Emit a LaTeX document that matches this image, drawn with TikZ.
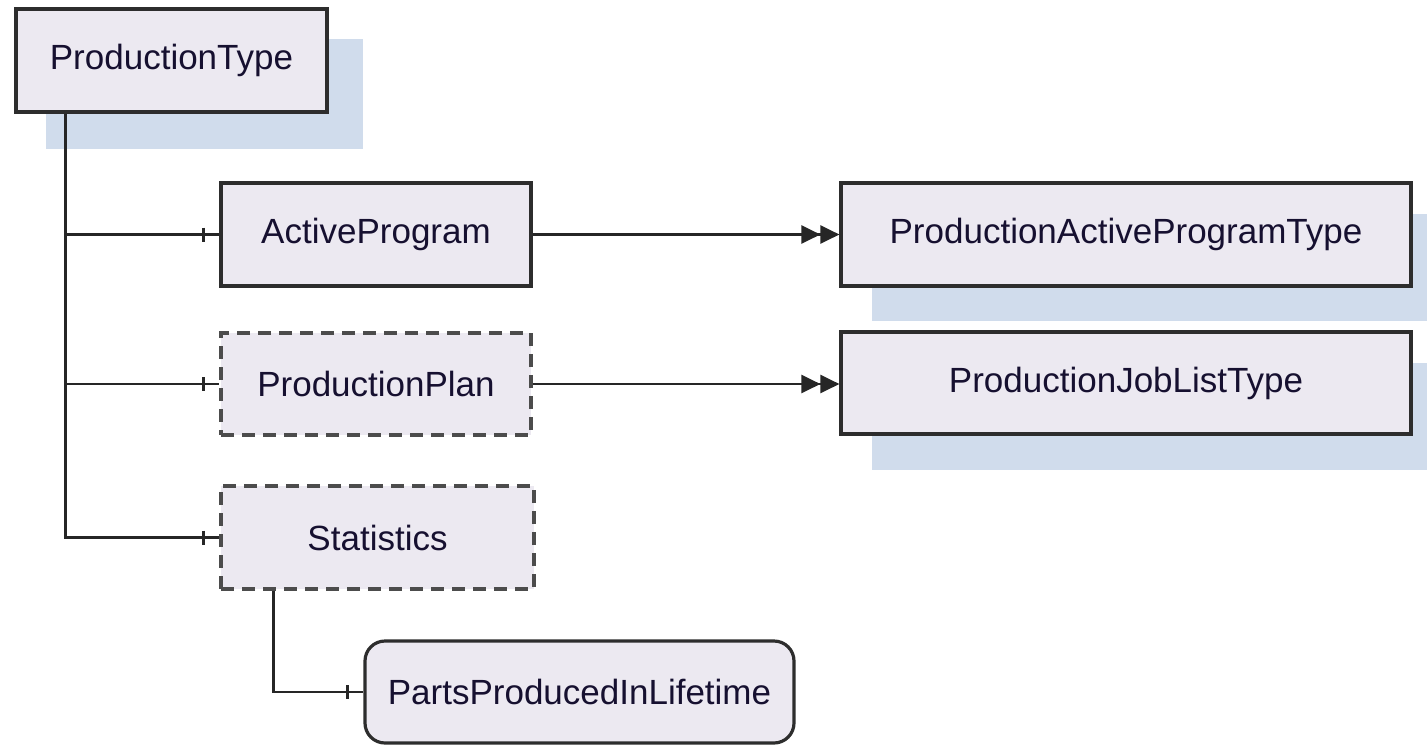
\documentclass[tikz,border=0pt]{standalone}
\usepackage{fontspec}
\setmainfont{Liberation Sans}
\usetikzlibrary{arrows.meta,calc,backgrounds}
\definecolor{boxfill}{RGB}{236,233,241}
\definecolor{shadowc}{RGB}{208,220,236}
\definecolor{boxline}{RGB}{45,45,45}
\definecolor{txt}{RGB}{22,16,48}
\tikzset{
  x=1pt, y=-1pt,
  elem/.style={draw=boxline, line width=3.2pt, fill=boxfill, inner sep=0pt,
    text=txt, font=\fontsize{35}{40}\selectfont},
  optelem/.style={elem, draw=boxline!85, dash pattern=on 13pt off 8pt},
  conn/.style={draw=black!85, line width=2.5pt},
  tick/.style={draw=black!85, line width=2.5pt},
  dblarrow/.style={conn, -{Triangle[length=19pt,width=18pt]Triangle[length=19pt,width=18pt]}},
}
\begin{document}
\begin{tikzpicture}
\useasboundingbox (0,0) rectangle (1427,745);
\node[elem, minimum width=311pt, minimum height=103pt] (pt) at (171.5,60.5) {ProductionType};
\node[elem, minimum width=310pt, minimum height=103pt] (ap) at (376,234.5) {ActiveProgram};
\node[elem, minimum width=570pt, minimum height=103pt] (papt) at (1126,234.5) {ProductionActiveProgramType};
\node[optelem, minimum width=310pt, minimum height=102pt] (pp) at (376,384) {ProductionPlan};
\node[elem, minimum width=570pt, minimum height=102pt] (pjlt) at (1126,383) {ProductionJobListType};
\node[optelem, minimum width=313pt, minimum height=103pt] (st) at (377.5,537.5) {Statistics};
\node[elem, rounded corners=20pt, minimum width=429pt, minimum height=102pt] (ppl) at (579.5,692) {PartsProducedInLifetime};

\begin{scope}[on background layer]
  \fill[shadowc] ($(pt.north west)+(32,32)$) rectangle ($(pt.south east)+(34,35)$);
  \fill[shadowc] ($(papt.north west)+(33,33)$) rectangle ($(papt.south east)+(40,33)$);
  \fill[shadowc] ($(pjlt.north west)+(33,33)$) rectangle ($(pjlt.south east)+(40,34)$);
\end{scope}

\coordinate (trunk) at ($(pt.south west)+(51,0)$);
\draw[conn] (trunk) |- (ap.west);
\draw[conn] (trunk) |- (pp.west);
\draw[conn] (trunk) |- (st.west);
\foreach \n in {ap,pp,st} {
  \draw[tick] ($(\n.west)+(-16,-7)$) -- ($(\n.west)+(-16,7)$);
}
\coordinate (stdrop) at ($(st.south west)+(54,0)$);
\draw[conn] (stdrop) |- (ppl.west);
\draw[tick] ($(ppl.west)+(-16,-7)$) -- ($(ppl.west)+(-16,7)$);

\draw[dblarrow] (ap.east) -- (papt.west);
\draw[dblarrow] (pp.east) -- (pp.east -| papt.west);
\end{tikzpicture}
\end{document}
